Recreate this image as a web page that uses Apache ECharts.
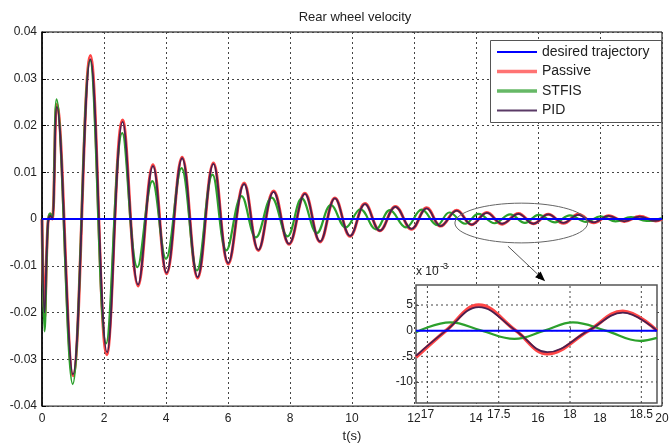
<!DOCTYPE html>
<html>
<head>
<meta charset="utf-8">
<script src="https://cdn.jsdelivr.net/npm/echarts@6/dist/echarts.min.js"></script>
<style>
  html, body { margin: 0; padding: 0; background: #fff; }
  #chart { width: 672px; height: 448px; }
</style>
</head>
<body>
<div id="chart"></div>
<script>
// Rear wheel velocity responses, [time (s), velocity] at peaks and troughs
const desired = [[0, 0], [20, 0]];
const passive = [[0,0],[0.08,-0.021],[0.19,-0.001],[0.27,0.001],[0.33,0.0],[0.48,0.0245],[1.0,-0.0335],[1.56,0.035],[2.09,-0.029],[2.6,0.0212],[3.1,-0.0143],[3.58,0.0116],[4.02,-0.0117],[4.52,0.0132],[5.02,-0.0126],[5.53,0.012],[6.01,-0.0096],[6.52,0.0077],[6.98,-0.0067],[7.47,0.006],[7.97,-0.0054],[8.48,0.0055],[8.97,-0.0049],[9.45,0.0045],[9.94,-0.0037],[10.42,0.0033],[10.9,-0.0025],[11.4,0.0027],[11.92,-0.0022],[12.41,0.0024],[12.86,-0.0015],[13.38,0.0019],[13.86,-0.0012],[14.35,0.0014],[14.84,-0.0011],[15.37,0.0012],[15.85,-0.001],[16.33,0.001],[16.82,-0.0009],[17.3,0.001],[17.8,-0.0008],[18.28,0.0007],[18.78,-0.0005],[19.28,0.0006],[19.8,-0.0004],[20,0]];
const stfis = [[0,0],[0.08,-0.024],[0.19,-0.001],[0.26,0.0012],[0.33,0.0003],[0.47,0.0256],[0.99,-0.0353],[1.55,0.034],[2.07,-0.0266],[2.59,0.0184],[3.08,-0.0103],[3.56,0.0081],[4.0,-0.0085],[4.5,0.0109],[5.0,-0.011],[5.5,0.0095],[5.95,-0.0067],[6.44,0.0049],[6.9,-0.0039],[7.41,0.0046],[7.92,-0.0037],[8.38,0.0044],[8.87,-0.003],[9.32,0.003],[9.8,-0.0018],[10.27,0.0021],[10.77,-0.0022],[11.22,0.0019],[11.74,-0.0018],[12.25,0.002],[12.75,-0.0013],[13.14,0.0014],[13.65,-0.001],[14.08,0.0011],[14.6,-0.0009],[15.1,0.001],[15.58,-0.0008],[16.02,0.0009],[16.55,-0.0007],[17.03,0.0008],[17.55,-0.0006],[18.02,0.0006],[18.5,-0.0005],[19.0,0.0004],[19.5,-0.0004],[20,0.0002]];
const pid = [[0,0],[0.08,-0.02],[0.19,-0.0012],[0.27,0.0008],[0.33,0.0],[0.48,0.024],[1.0,-0.0332],[1.56,0.0342],[2.1,-0.0285],[2.6,0.0208],[3.1,-0.014],[3.58,0.0113],[4.02,-0.0115],[4.52,0.013],[5.02,-0.0124],[5.53,0.0118],[6.01,-0.0094],[6.52,0.0075],[6.98,-0.0066],[7.47,0.0058],[7.97,-0.0053],[8.48,0.0054],[8.97,-0.0048],[9.45,0.0044],[9.94,-0.0036],[10.42,0.0032],[10.9,-0.0025],[11.4,0.0026],[11.92,-0.0021],[12.41,0.0023],[12.86,-0.0015],[13.38,0.0018],[13.86,-0.0012],[14.35,0.0013],[14.84,-0.001],[15.37,0.0011],[15.85,-0.001],[16.33,0.001],[16.82,-0.0008],[17.3,0.0009],[17.8,-0.0007],[18.28,0.0007],[18.78,-0.0005],[19.28,0.0005],[19.8,-0.0004],[20,0]];

// Close-up window, values in units of 1e-3
const zoomDesired = [[16.92, 0], [18.61, 0]];
const zoomPassive = [[16.92,-5.2],[17.13,0],[17.36,5.0],[17.62,0],[17.84,-4.5],[18.13,0],[18.37,3.8],[18.61,0]];
const zoomStfis = [[16.92,-0.3],[17.16,1.6],[17.38,0],[17.61,-1.6],[17.82,0],[18.02,1.6],[18.25,0],[18.49,-2.0],[18.61,-1.4]];
const zoomPid = [[16.92,-4.9],[17.13,0],[17.36,4.6],[17.62,0],[17.84,-4.2],[18.13,0],[18.37,3.5],[18.61,0]];

const zoomXTicks = [17, 17.5, 18, 18.5];
const zoomYTicks = [-10, -5, 0, 5];
const zoomXRange = [16.92, 18.61];
const zoomYRange = [-14.1, 8.9];

// Region of the main plot that the close-up enlarges: [t, v] corners, and the arrow
const focusBox = [[13.32, 0.0034], [17.6, -0.0051]];
const arrowFromTo = [[15.03, -0.0058], [16.23, -0.0133]];

const names = ['desired trajectory', 'Passive', 'STFIS', 'PID'];
const colors = { desired: '#0000ff', passive: '#ff4545', stfis: '#2ca02c', pid: '#4a1f4f' };
// legend swatches: colour and stroke thickness
const swatch = [['#0000ff', 2], ['#ff7373', 3.5], ['#66b866', 3.5], ['#5a3a66', 2]];

const FONT = 'Liberation Sans, Arial, sans-serif';
const gridDash = { color: '#444', width: 1, type: [2, 3] };

function lineSeries(name, data, color, width, z, xi, smooth) {
  return {
    name, type: 'line', data, xAxisIndex: xi, yAxisIndex: xi,
    showSymbol: false, symbol: 'none', smooth: smooth, z,
    lineStyle: { color, width }, itemStyle: { color },
    emphasis: { disabled: true }, silent: true
  };
}

// dotted grid of the close-up: one two-point segment per tick value
function zoomGridSeries(points) {
  return {
    name: 'zoom-grid', type: 'line', data: points, xAxisIndex: 1, yAxisIndex: 1,
    showSymbol: false, symbol: 'none', z: 7, silent: true,
    lineStyle: gridDash, emphasis: { disabled: true }
  };
}
const zoomGrid = zoomXTicks.map(v => zoomGridSeries([[v, zoomYRange[0]], [v, zoomYRange[1]]]))
  .concat(zoomYTicks.map(v => zoomGridSeries([[zoomXRange[0], v], [zoomXRange[1], v]])));

const option = {
  animation: false,
  backgroundColor: '#fff',
  textStyle: { fontFamily: FONT },
  grid: [
    { left: 42, right: 10, top: 32, bottom: 37, show: true, borderColor: '#000', borderWidth: 1, backgroundColor: '#fff' },
    { left: 416, top: 285, width: 241, height: 118, show: true, borderColor: '#555', borderWidth: 1.5, backgroundColor: '#fff', z: 6 }
  ],
  legend: {
    data: names.map((n, i) => ({
      name: n,
      icon: 'path://M0,0H40V' + swatch[i][1] + 'H0Z',
      itemStyle: { color: swatch[i][0] }
    })),
    orient: 'vertical', left: 497, top: 45,
    itemWidth: 40, itemHeight: 14, itemGap: 5.5, padding: 0,
    textStyle: { fontSize: 14, color: '#222', fontFamily: FONT },
    z: 20, selectedMode: false
  },
  xAxis: [
    {
      type: 'value', gridIndex: 0, min: 0, max: 20, interval: 2,
      axisLine: { lineStyle: { color: '#000', width: 1.5 } },
      axisTick: { inside: true, length: 4, lineStyle: { color: '#000' } },
      axisLabel: { fontSize: 12, color: '#222', margin: 7 },
      splitLine: { show: true, lineStyle: gridDash },
      name: 't(s)', nameLocation: 'middle', nameGap: 23,
      nameTextStyle: { fontSize: 13, color: '#222' }
    },
    {
      type: 'value', gridIndex: 1, min: zoomXRange[0], max: zoomXRange[1], position: 'bottom', z: 7,
      axisLine: { show: false },
      axisTick: { inside: true, length: 3, customValues: zoomXTicks, lineStyle: { color: '#555' } },
      axisLabel: { fontSize: 12, color: '#222', margin: 6, customValues: zoomXTicks },
      splitLine: { show: false }
    }
  ],
  yAxis: [
    {
      type: 'value', gridIndex: 0, min: -0.04, max: 0.04, interval: 0.01,
      axisLine: { show: true, lineStyle: { color: '#000', width: 1.5 } },
      axisTick: { show: true, inside: true, length: 4, lineStyle: { color: '#000' } },
      axisLabel: { fontSize: 12, color: '#222', margin: 5,
        formatter: v => (Math.abs(v) < 1e-9 ? '0' : v.toFixed(2)) },
      splitLine: { show: true, lineStyle: gridDash }
    },
    {
      type: 'value', gridIndex: 1, min: zoomYRange[0], max: zoomYRange[1], z: 7,
      axisLine: { show: false },
      axisTick: { show: true, inside: true, length: 3, customValues: zoomYTicks, lineStyle: { color: '#555' } },
      axisLabel: { fontSize: 12, color: '#222', margin: 3, customValues: zoomYTicks },
      splitLine: { show: false }
    }
  ],
  series: [
    lineSeries(names[0], desired, colors.desired, 2, 5, 0, false),
    lineSeries(names[1], passive, colors.passive, 3, 2, 0, 0.4),
    lineSeries(names[2], stfis, colors.stfis, 2.2, 3, 0, 0.4),
    lineSeries(names[3], pid, colors.pid, 1.8, 4, 0, 0.4),
    ...zoomGrid,
    lineSeries(names[0], zoomDesired, colors.desired, 2, 11, 1, false),
    lineSeries(names[1], zoomPassive, colors.passive, 3.5, 8, 1, 0.4),
    lineSeries(names[2], zoomStfis, colors.stfis, 2.2, 9, 1, 0.4),
    lineSeries(names[3], zoomPid, colors.pid, 1.8, 10, 1, 0.4)
  ]
};

const chart = echarts.init(document.getElementById('chart'), null, { renderer: 'canvas' });
chart.setOption(option);

// Annotations placed from data coordinates of the main plot
const toPx = p => chart.convertToPixel({ xAxisIndex: 0, yAxisIndex: 0 }, p);
const b0 = toPx(focusBox[0]), b1 = toPx(focusBox[1]);
const a0 = toPx(arrowFromTo[0]), a1 = toPx(arrowFromTo[1]);
const dx = a1[0] - a0[0], dy = a1[1] - a0[1];
const len = Math.hypot(dx, dy), ux = dx / len, uy = dy / len;
const headL = 10, headW = 4;
const base = [a1[0] - ux * headL, a1[1] - uy * headL];

chart.setOption({
  graphic: [
    { type: 'rect', shape: { x: 490.5, y: 40.5, width: 171, height: 82 },
      style: { fill: '#fff', stroke: '#555', lineWidth: 1 }, z: 15, silent: true },
    { type: 'ellipse', shape: { cx: (b0[0] + b1[0]) / 2, cy: (b0[1] + b1[1]) / 2,
        rx: Math.abs(b1[0] - b0[0]) / 2, ry: Math.abs(b1[1] - b0[1]) / 2 },
      style: { fill: null, stroke: '#666', lineWidth: 1 }, z: 14, silent: true },
    { type: 'line', shape: { x1: a0[0], y1: a0[1], x2: base[0], y2: base[1] },
      style: { stroke: '#555', lineWidth: 1 }, z: 14, silent: true },
    { type: 'polygon', shape: { points: [
        a1,
        [base[0] - uy * headW, base[1] + ux * headW],
        [base[0] + uy * headW, base[1] - ux * headW]
      ] }, style: { fill: '#000' }, z: 14, silent: true },
    { type: 'text', x: 355, y: 11, style: { text: 'Rear wheel velocity', font: '13px ' + FONT,
        fill: '#222', textAlign: 'center' }, z: 15, silent: true },
    { type: 'text', x: 416, y: 266, style: { text: 'x 10', font: '12px ' + FONT, fill: '#222' }, z: 15, silent: true },
    { type: 'text', x: 440, y: 262, style: { text: '-3', font: '9px ' + FONT, fill: '#222' }, z: 15, silent: true }
  ]
});
</script>
</body>
</html>
